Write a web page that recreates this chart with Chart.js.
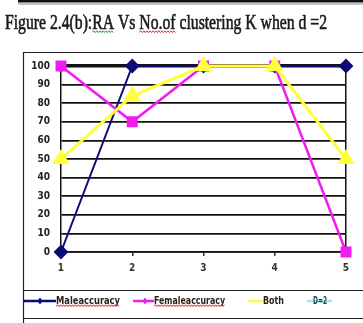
<!DOCTYPE html>
<html>
<head>
<meta charset="utf-8">
<script src="https://cdn.jsdelivr.net/npm/chart.js@4/dist/chart.umd.min.js"></script>
<style>
  html, body { margin: 0; padding: 0; background: #ffffff; }
  #wrap { position: relative; width: 363px; height: 323px; }
  canvas { display: block; }
</style>
</head>
<body>
<div id="wrap"><canvas id="c" width="363" height="323"></canvas></div>
<script>
// Number of clusters K
const kValues = ['1', '2', '3', '4', '5'];
// Recognition accuracy (%) per K
const maleAccuracy = [0, 100, 100, 100, 100];
const femaleAccuracy = [100, 70, 100, 100, 0];
const bothAccuracy = [50, 84, 100, 100, 50];
const d2Values = [];

const titleText = 'Figure 2.4(b):RA Vs No.of clustering K when d =2';
const seriesNames = ['Maleaccuracy', 'Femaleaccuracy', 'Both', 'D=2'];

const NARROW = "'Liberation Sans Narrow', 'DejaVu Sans Condensed', 'Liberation Sans', sans-serif";

function squiggle(ctx, x0, x1, y, color) {
  ctx.save();
  ctx.strokeStyle = color;
  ctx.lineWidth = 1;
  ctx.beginPath();
  let up = true;
  ctx.moveTo(x0, y);
  for (let x = x0 + 1.5; x <= x1; x += 1.5) {
    ctx.lineTo(x, up ? y - 1.2 : y + 0.6);
    up = !up;
  }
  ctx.stroke();
  ctx.restore();
}

// Draws text squeezed/stretched to a fixed width
function fitText(ctx, text, x, y, width, stroke) {
  const w = ctx.measureText(text).width;
  const sx = width / w;
  ctx.save();
  ctx.translate(x, y);
  ctx.scale(sx, 1);
  ctx.fillText(text, 0, 0);
  if (stroke) {
    ctx.strokeStyle = ctx.fillStyle;
    ctx.lineWidth = stroke;
    ctx.strokeText(text, 0, 0);
  }
  ctx.restore();
  return sx;
}

const framePlugin = {
  id: 'frame',
  beforeDraw(chart) {
    const ctx = chart.ctx;
    ctx.save();
    ctx.fillStyle = '#ffffff';
    ctx.fillRect(0, 0, chart.width, chart.height);
    // top rule
    ctx.fillStyle = '#111';
    ctx.fillRect(18, 0, 345, 2.5);
    ctx.fillStyle = '#888';
    ctx.fillRect(18, 3.5, 345, 1);
    // title
    ctx.fillStyle = '#1a1a1a';
    ctx.font = "20px 'Liberation Serif', 'DejaVu Serif', serif";
    ctx.textBaseline = 'alphabetic';
    ctx.textAlign = 'left';
    const tx = 5, ty = 29;
    const sx = fitText(ctx, titleText, tx, ty, 322, 0.6);
    const pre1 = titleText.indexOf('RA');
    const a1 = tx + ctx.measureText(titleText.slice(0, pre1)).width * sx;
    const b1 = a1 + ctx.measureText('RA').width * sx;
    squiggle(ctx, a1, b1, ty + 3, '#3a8a3a');
    const pre2 = titleText.indexOf('No.of');
    const a2 = tx + ctx.measureText(titleText.slice(0, pre2)).width * sx;
    const b2 = a2 + ctx.measureText('No.of').width * sx;
    squiggle(ctx, a2, b2, ty + 3, '#d03030');
    // chart box
    ctx.strokeStyle = '#222';
    ctx.lineWidth = 1.2;
    ctx.beginPath();
    ctx.moveTo(23.5, 323); ctx.lineTo(23.5, 52.5); ctx.lineTo(363, 52.5);
    ctx.moveTo(23.5, 290.5); ctx.lineTo(363, 290.5);
    ctx.moveTo(23.5, 318.5); ctx.lineTo(363, 318.5);
    ctx.stroke();
    ctx.restore();
  },
  afterDraw(chart) {
    // legend row
    const ctx = chart.ctx;
    const ds = chart.data.datasets;
    const y = 301;
    const items = [
      { i: 0, l0: 24, l1: 56, mx: 40, tx: 56, tw: 64 },
      { i: 1, l0: 133, l1: 154, mx: 145, tx: 154, tw: 71 },
      { i: 2, l0: 248, l1: 264, mx: null, tx: 263, tw: 21 },
      { i: 3, l0: 307, l1: 332, mx: null, tx: 313, tw: 14 }
    ];
    ctx.save();
    items.forEach(it => {
      const d = ds[it.i];
      ctx.strokeStyle = d.borderColor;
      ctx.lineWidth = 2.5;
      ctx.beginPath();
      ctx.moveTo(it.l0, y); ctx.lineTo(it.l1, y);
      ctx.stroke();
      if (it.mx !== null) {
        ctx.fillStyle = d.borderColor;
        ctx.beginPath();
        ctx.moveTo(it.mx, y - 3.5); ctx.lineTo(it.mx + 2.5, y);
        ctx.lineTo(it.mx, y + 3.5); ctx.lineTo(it.mx - 2.5, y);
        ctx.closePath(); ctx.fill();
      }
      ctx.fillStyle = it.i === 3 ? '#1d3d4d' : '#2b2118';
      ctx.font = 'bold 11px ' + NARROW;
      ctx.textBaseline = 'middle';
      ctx.textAlign = 'left';
      fitText(ctx, d.label, it.tx, y, it.tw);
      if (it.i < 2) squiggle(ctx, it.tx, it.tx + it.tw, y + 5, '#d02020');
    });
    ctx.restore();
  }
};

new Chart(document.getElementById('c'), {
  type: 'line',
  data: {
    labels: kValues,
    datasets: [
      {
        label: seriesNames[0], data: maleAccuracy,
        borderColor: '#0c0c78', backgroundColor: '#0c0c78',
        borderWidth: 2, pointStyle: 'rectRot', pointRadius: 6,
        clip: false, order: 3
      },
      {
        label: seriesNames[1], data: femaleAccuracy,
        borderColor: '#f01cf0', backgroundColor: '#f01cf0',
        borderWidth: 2.5, pointStyle: 'rect', pointRadius: 6,
        clip: false, order: 2
      },
      {
        label: seriesNames[2], data: bothAccuracy,
        borderColor: '#ffff3c', backgroundColor: '#ffff3c',
        borderWidth: 3, pointStyle: 'triangle', pointRadius: 7,
        clip: false, order: 1
      },
      {
        label: seriesNames[3], data: d2Values,
        borderColor: '#a8e4e4', backgroundColor: '#a8e4e4',
        borderWidth: 2, pointRadius: 0, clip: false, order: 4
      }
    ]
  },
  options: {
    responsive: false,
    animation: false,
    devicePixelRatio: 1,
    layout: { padding: { top: 66, right: 17, left: 0, bottom: 0 } },
    elements: { line: { tension: 0 } },
    plugins: {
      legend: { display: false },
      title: { display: false },
      tooltip: { enabled: false }
    },
    scales: {
      x: {
        type: 'category',
        offset: false,
        afterFit(scale) { scale.height = 71; },
        border: { display: true, color: '#111', width: 1.5 },
        grid: {
          drawOnChartArea: true,
          color: (c) => (c.index === kValues.length - 1 ? '#111' : 'rgba(0,0,0,0)'),
          lineWidth: 1.5,
          tickColor: '#333',
          tickLength: 4
        },
        ticks: {
          color: '#333',
          padding: 6,
          maxRotation: 0,
          font: { family: NARROW, size: 10, weight: 'bold' }
        }
      },
      y: {
        min: 0, max: 100,
        afterFit(scale) { scale.width = 61; },
        border: { display: true, color: '#111', width: 1.5 },
        grid: {
          color: '#111',
          lineWidth: (c) => (c.tick && c.tick.value === 100 ? 3.5 : 1.8),
          drawTicks: false
        },
        ticks: {
          stepSize: 10,
          color: '#222',
          padding: 11,
          font: { family: NARROW, size: 10, weight: 'bold' }
        }
      }
    }
  },
  plugins: [framePlugin]
});
</script>
</body>
</html>
